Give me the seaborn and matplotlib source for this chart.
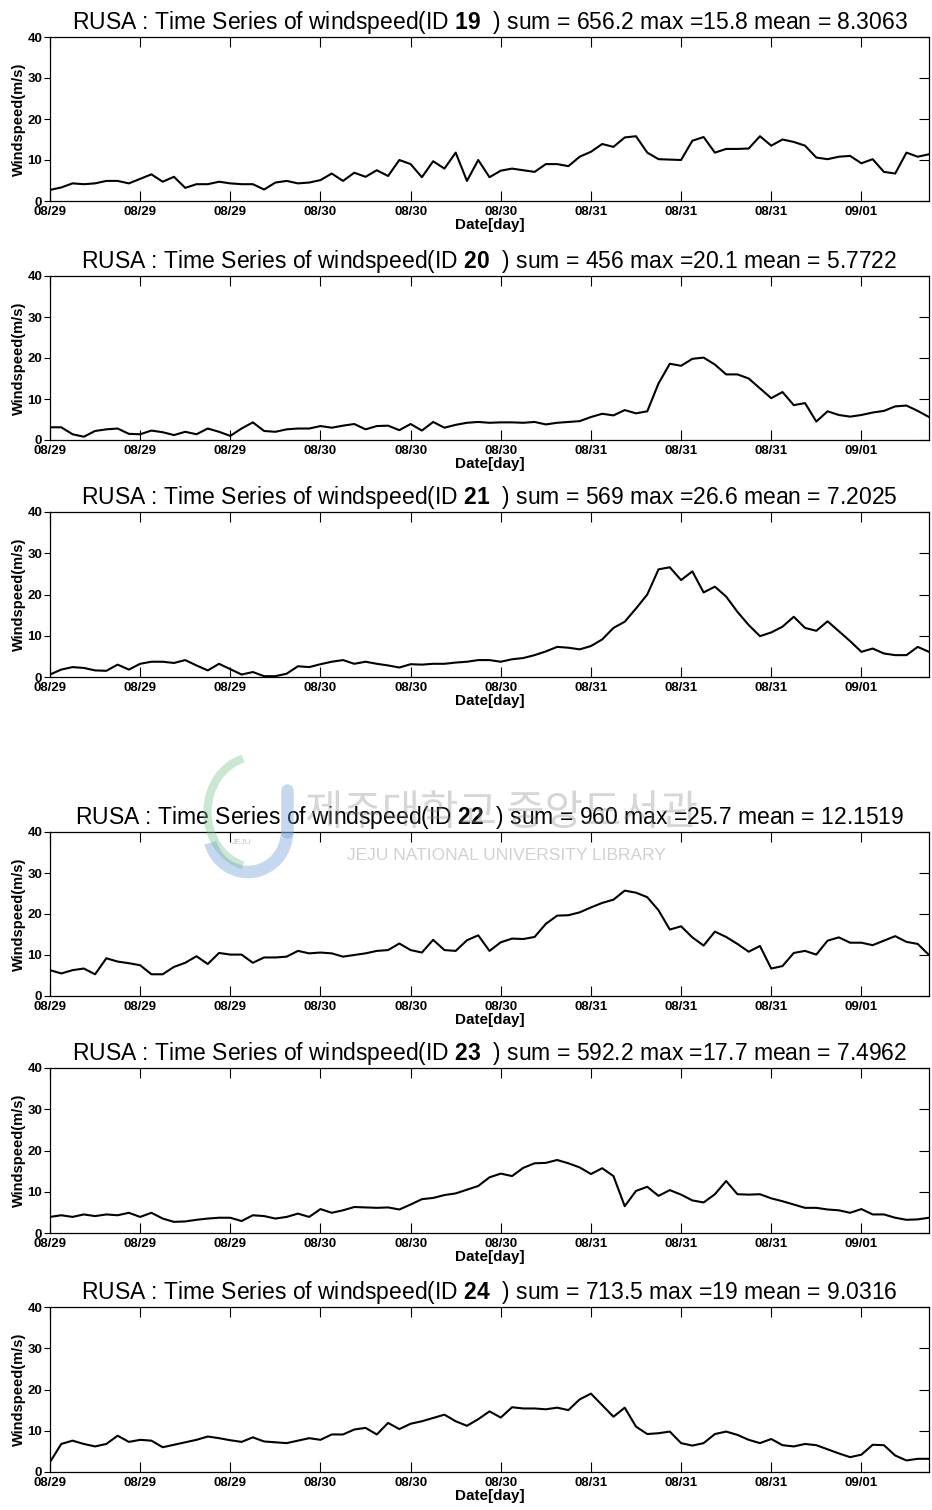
import numpy as np
import matplotlib
matplotlib.use("Agg")
import matplotlib.pyplot as plt
from matplotlib.patches import Arc
from matplotlib.lines import Line2D
import seaborn as sns

# ---- data: hourly wind speed (m/s) during typhoon RUSA, 79 hours from 08/29 00h ----
HOURS = np.arange(79)

WS_19 = [2.7, 3.3, 4.3, 4.1, 4.3, 4.9, 4.9, 4.3, 5.4, 6.5, 4.7, 5.9, 3.2, 4.1, 4.1, 4.7,
         4.3, 4.1, 4.1, 2.8, 4.5, 4.9, 4.3, 4.5, 5.1, 6.7, 4.9, 6.9, 5.9, 7.5, 6.1, 10.0,
         9.0, 5.8, 9.7, 7.9, 11.8, 4.9, 10.0, 5.8, 7.4, 7.9, 7.5, 7.1, 9.0, 9.0, 8.5, 10.8,
         12.0, 13.9, 13.2, 15.5, 15.8, 11.8, 10.2, 10.1, 10.0, 14.7, 15.6, 11.8, 12.7, 12.7,
         12.8, 15.8, 13.5, 15.0, 14.4, 13.5, 10.6, 10.2, 10.8, 11.0, 9.2, 10.2, 7.1, 6.7,
         11.8, 10.8, 11.4]

WS_20 = [3.1, 3.1, 1.4, 0.8, 2.2, 2.6, 2.8, 1.5, 1.4, 2.3, 1.9, 1.2, 2.0, 1.4, 2.8, 2.0,
         1.0, 2.8, 4.3, 2.2, 2.0, 2.6, 2.8, 2.8, 3.4, 3.0, 3.5, 3.9, 2.6, 3.4, 3.5, 2.4,
         3.9, 2.3, 4.4, 3.0, 3.7, 4.2, 4.4, 4.2, 4.3, 4.3, 4.2, 4.4, 3.8, 4.2, 4.4, 4.6,
         5.6, 6.4, 6.0, 7.3, 6.5, 7.0, 13.8, 18.6, 18.1, 19.8, 20.1, 18.4, 16.0, 16.0,
         15.0, 12.6, 10.2, 11.7, 8.5, 9.0, 4.5, 7.0, 6.1, 5.7, 6.1, 6.7, 7.1, 8.2, 8.4,
         7.1, 5.6]

WS_21 = [0.6, 1.8, 2.4, 2.2, 1.6, 1.5, 3.0, 1.8, 3.2, 3.7, 3.7, 3.4, 4.1, 2.8, 1.6, 3.2,
         1.9, 0.6, 1.2, 0.2, 0.2, 0.8, 2.6, 2.4, 3.1, 3.7, 4.1, 3.2, 3.7, 3.2, 2.8, 2.3,
         3.1, 3.0, 3.2, 3.2, 3.5, 3.7, 4.1, 4.1, 3.7, 4.3, 4.6, 5.3, 6.2, 7.3, 7.1, 6.7,
         7.5, 9.1, 11.9, 13.4, 16.6, 20.0, 26.1, 26.6, 23.5, 25.6, 20.5, 21.9, 19.5, 15.8,
         12.6, 9.9, 10.8, 12.2, 14.6, 11.9, 11.2, 13.5, 11.1, 8.7, 6.1, 6.9, 5.7, 5.3, 5.3,
         7.3, 6.1]

WS_22 = [6.3, 5.5, 6.3, 6.7, 5.3, 9.2, 8.4, 8.0, 7.5, 5.3, 5.3, 7.1, 8.1, 9.7, 7.8, 10.5,
         10.1, 10.1, 8.1, 9.4, 9.4, 9.6, 11.0, 10.4, 10.6, 10.4, 9.6, 10.0, 10.4, 11.0, 11.2,
         12.8, 11.2, 10.6, 13.7, 11.2, 11.0, 13.6, 14.8, 11.0, 13.1, 14.0, 13.9, 14.4, 17.6,
         19.6, 19.7, 20.4, 21.6, 22.7, 23.5, 25.7, 25.2, 24.1, 20.9, 16.2, 17.0, 14.3, 12.3,
         15.7, 14.4, 12.7, 10.8, 12.2, 6.7, 7.3, 10.5, 11.0, 10.1, 13.5, 14.3, 13.0, 13.0,
         12.4, 13.5, 14.6, 13.2, 12.7, 10.0]

WS_23 = [3.9, 4.3, 3.9, 4.5, 4.1, 4.5, 4.3, 4.9, 3.9, 4.9, 3.5, 2.7, 2.8, 3.2, 3.5, 3.7,
         3.7, 2.9, 4.3, 4.1, 3.5, 3.9, 4.7, 3.9, 5.8, 4.9, 5.5, 6.3, 6.2, 6.1, 6.2, 5.7,
         6.9, 8.2, 8.5, 9.2, 9.6, 10.5, 11.4, 13.5, 14.4, 13.8, 15.8, 16.9, 17.0, 17.7, 16.9,
         15.9, 14.3, 15.7, 13.8, 6.5, 10.2, 11.2, 9.0, 10.4, 9.3, 7.9, 7.4, 9.4, 12.6, 9.4,
         9.3, 9.4, 8.4, 7.7, 6.9, 6.1, 6.1, 5.7, 5.5, 4.9, 5.8, 4.5, 4.5, 3.7, 3.2, 3.3, 3.7]

WS_24 = [2.4, 6.8, 7.6, 6.8, 6.2, 6.8, 8.8, 7.3, 7.8, 7.6, 6.0, 6.6, 7.2, 7.8, 8.6, 8.2,
         7.7, 7.3, 8.4, 7.4, 7.2, 7.0, 7.6, 8.2, 7.8, 9.1, 9.1, 10.3, 10.7, 9.1, 11.9, 10.4,
         11.7, 12.3, 13.1, 13.9, 12.3, 11.2, 12.8, 14.7, 13.2, 15.7, 15.4, 15.4, 15.2, 15.6,
         15.0, 17.6, 19.0, 16.2, 13.4, 15.6, 11.0, 9.2, 9.4, 9.8, 7.0, 6.4, 7.0, 9.2, 9.8,
         9.0, 7.8, 7.0, 8.0, 6.5, 6.2, 6.8, 6.5, 5.5, 4.5, 3.6, 4.2, 6.6, 6.5, 4.0, 2.8,
         3.2, 3.2]

SERIES = [WS_19, WS_20, WS_21, WS_22, WS_23, WS_24]
IDS = [19, 20, 21, 22, 23, 24]
SUMS = ["656.2", "456", "569", "960", "592.2", "713.5"]
MAXS = ["15.8", "20.1", "26.6", "25.7", "17.7", "19"]
MEANS = ["8.3063", "5.7722", "7.2025", "12.1519", "7.4962", "9.0316"]

TICK_HOURS = [0, 8, 16, 24, 32, 40, 48, 56, 64, 72]
TICK_LABELS = ["08/29", "08/29", "08/29", "08/30", "08/30", "08/30",
               "08/31", "08/31", "08/31", "09/01"]
Y_TICKS = [0, 10, 20, 30, 40]

# ---- style ----
sns.set_style("ticks")
plt.rcParams["font.family"] = ["Liberation Sans", "DejaVu Sans"]
plt.rcParams["mathtext.fontset"] = "custom"
plt.rcParams["mathtext.rm"] = "Liberation Sans"
plt.rcParams["mathtext.bf"] = "Liberation Sans:bold"
plt.rcParams["axes.edgecolor"] = "black"
plt.rcParams["axes.linewidth"] = 0.9
plt.rcParams["text.color"] = "black"
plt.rcParams["axes.labelcolor"] = "black"
plt.rcParams["axes.titlecolor"] = "black"
plt.rcParams["xtick.color"] = "black"
plt.rcParams["ytick.color"] = "black"

W, H = 932, 1510
fig = plt.figure(figsize=(W / 100, H / 100), dpi=100)
fig.patch.set_facecolor("white")

LEFT, RIGHT = 50, 929
PANELS_PX = [(37, 201), (276, 440), (512, 677), (832, 996), (1068, 1233), (1307, 1472)]


def fx(px):
    return px / W


def fy(py):
    return 1 - py / H


for (top, bottom), ws, sid, s, m, mu in zip(PANELS_PX, SERIES, IDS, SUMS, MAXS, MEANS):
    ax = fig.add_axes([fx(LEFT), fy(bottom), (RIGHT - LEFT) / W, (bottom - top) / H])
    sns.lineplot(x=HOURS, y=ws, ax=ax, color="black", linewidth=1.5)
    ax.set_xlim(0, 78)
    ax.set_ylim(0, 40)
    ax.set_xticks(TICK_HOURS)
    ax.set_xticklabels(TICK_LABELS, fontsize=9.5, fontweight="bold")
    ax.set_yticks(Y_TICKS)
    ax.set_yticklabels([str(v) for v in Y_TICKS], fontsize=9.5, fontweight="bold")
    ax.tick_params(axis="x", direction="in", top=True, bottom=True,
                   length=7, width=0.8, pad=3.5, colors="black")
    ax.tick_params(axis="y", direction="out", left=True, right=False,
                   length=4, width=0.8, pad=1.5, colors="black")
    sec = ax.secondary_yaxis("right")
    sec.set_yticks(Y_TICKS)
    sec.tick_params(direction="in", length=7, width=0.8, labelright=False, colors="black")
    sec.spines["right"].set_visible(False)
    for sp in ax.spines.values():
        sp.set_visible(True)
        sp.set_color("black")
    ax.set_xlabel("Date[day]", fontsize=11, fontweight="bold", labelpad=0)
    ax.set_ylabel("Windspeed(m/s)", fontsize=10.5, fontweight="bold", labelpad=1)
    title = (f"RUSA : Time Series of windspeed(ID $\\mathbf{{{sid}}}$  ) "
             f"sum = {s} max ={m} mean = {mu}")
    ax.set_title(title, fontsize=16.5, pad=6, color="black")

# ---- library watermark ----
wm_gray = "#8c8c8c"
fig.text(fx(502), fy(814), "제주대학교 중앙도서관", fontsize=30,
         family=["Noto Sans CJK KR", "DejaVu Sans"], color=wm_gray, alpha=0.35,
         ha="center", va="center", zorder=20)
fig.text(fx(506), fy(856), "JEJU NATIONAL UNIVERSITY LIBRARY", fontsize=12.5,
         color=wm_gray, alpha=0.4, ha="center", va="center", zorder=20)
fig.add_artist(Arc((fx(255), fy(812)), 95 / W, 110 / H, theta1=110, theta2=250,
                   transform=fig.transFigure, color="#7cc48f", lw=6, alpha=0.4, zorder=20))
fig.add_artist(Arc((fx(248), fy(832)), 78 / W, 80 / H, theta1=190, theta2=360,
                   transform=fig.transFigure, color="#6f9fd8", lw=9, alpha=0.4, zorder=20))
fig.add_artist(Line2D([fx(287), fx(287)], [fy(790), fy(832)], transform=fig.transFigure,
                      color="#6f9fd8", lw=9, alpha=0.4, zorder=20))
fig.text(fx(242), fy(842), "JEJU", fontsize=6, color=wm_gray, alpha=0.5,
         ha="center", va="center", zorder=20)

fig.savefig("out.png", dpi=100, facecolor="white")
